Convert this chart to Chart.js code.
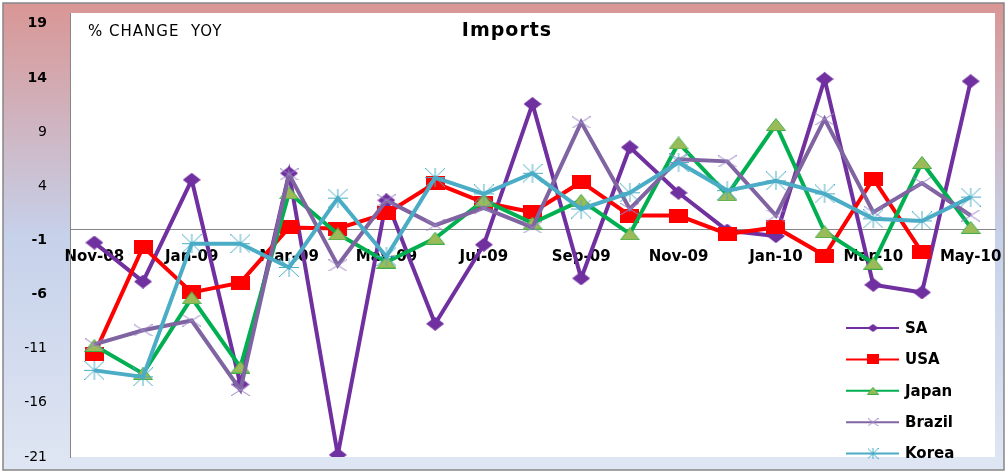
<!DOCTYPE html>
<html>
<head>
<meta charset="utf-8">
<script src="https://cdn.jsdelivr.net/npm/chart.js@4.4.1/dist/chart.umd.min.js"></script>
<style>
  html, body { margin: 0; padding: 0; background: #fff; }
</style>
</head>
<body>
<canvas id="grafico_imports" width="1007" height="473"></canvas>
<script>
// categorias (meses) e valores
const meses = ['Nov-08','Dec-08','Jan-09','Feb-09','Mar-09','Apr-09','May-09','Jun-09','Jul-09','Aug-09',
               'Sep-09','Oct-09','Nov-09','Dec-09','Jan-10','Feb-10','Mar-10','Apr-10','May-10']
const mesesVisiveis = ['Nov-08','Jan-09','Mar-09','May-09','Jul-09','Sep-09','Nov-09','Jan-10','Mar-10','May-10']

const sa     = [-1.2, -4.8, 4.6, -14.3, 5.2, -20.8, 2.7, -8.7, -1.4, 11.6, -4.5, 7.6, 3.4, -0.1, -0.6, 13.9, -5.1, -5.8, 13.7]
const usa    = [-11.5, -1.6, -5.8, -4.9, 0.2, 0.1, 1.5, 4.3, 2.5, 1.6, 4.4, 1.3, 1.3, -0.4, 0.2, -2.4, 4.7, -2.1, null]
const japan  = [-10.7, -13.3, -6.3, -12.7, 3.4, -0.4, -3.0, -0.8, 2.7, 0.6, 2.7, -0.4, 8.0, 3.2, 9.7, -0.2, -3.1, 6.2, 0.2]
const brazil = [-10.6, -9.3, -8.4, -14.8, 5.1, -3.3, 2.7, 0.4, 2.0, 0.2, 9.9, 1.9, 6.5, 6.3, 1.3, 10.2, 1.6, 4.3, 1.3]
const korea  = [-13.0, -13.6, -1.3, -1.3, -3.5, 2.9, -2.5, 4.8, 3.3, 5.2, 1.9, 3.4, 6.2, 3.6, 4.5, 3.3, 1.0, 0.8, 3.0]

const yTicks = [-21, -16, -11, -6, -1, 4, 9, 14, 19]
const yTicksBold = [19, 14, -1, -6]

const fonte = 'DejaVu Sans'

// marcadores desenhados num canvas (achatados como no original)
function marcador(tipo, w, h, cor, borda) {
    const c = document.createElement('canvas')
    c.width = w
    c.height = h
    const g = c.getContext('2d')
    g.fillStyle = cor
    g.strokeStyle = borda || cor
    g.lineWidth = 1
    g.beginPath()
    if (tipo === 'losango') {
        g.moveTo(w / 2, 0); g.lineTo(w, h / 2); g.lineTo(w / 2, h); g.lineTo(0, h / 2); g.closePath()
        g.fill()
    } else if (tipo === 'quadrado') {
        g.rect(0, 0, w, h)
        g.fill()
    } else if (tipo === 'triangulo') {
        g.moveTo(w / 2, 0.5); g.lineTo(w - 0.5, h - 0.5); g.lineTo(0.5, h - 0.5); g.closePath()
        g.fill(); g.stroke()
    } else if (tipo === 'xis') {
        g.moveTo(0, 0); g.lineTo(w, h); g.moveTo(w, 0); g.lineTo(0, h)
        g.stroke()
    } else if (tipo === 'estrela') {
        g.moveTo(0, 0); g.lineTo(w, h); g.moveTo(w, 0); g.lineTo(0, h)
        g.moveTo(w / 2, 0); g.lineTo(w / 2, h); g.moveTo(0, h / 2); g.lineTo(w, h / 2)
        g.stroke()
    }
    return c
}

const series = [
    { label: 'SA',     data: sa,     cor: '#7030a0', ponto: marcador('losango', 18, 14, '#7030a0'),              mini: marcador('losango', 11, 8, '#7030a0') },
    { label: 'USA',    data: usa,    cor: '#ff0000', ponto: marcador('quadrado', 19, 14, '#ff0000'),             mini: marcador('quadrado', 12, 10, '#ff0000') },
    { label: 'Japan',  data: japan,  cor: '#00b050', ponto: marcador('triangulo', 20, 13, '#9bbb59', '#3fae49'), mini: marcador('triangulo', 12, 8, '#9bbb59', '#3fae49') },
    { label: 'Brazil', data: brazil, cor: '#8064a2', ponto: marcador('xis', 19, 12, '', '#9a84c4'),             mini: marcador('xis', 11, 8, '', '#9a84c4') },
    { label: 'Korea',  data: korea,  cor: '#4bacc6', ponto: marcador('estrela', 20, 19, '', '#4bacc6'),         mini: marcador('estrela', 11, 11, '', '#4bacc6') }
]

// fundo em degrade + area branca do grafico
const fundo = {
    id: 'fundo',
    beforeDraw(chart) {
        const c = chart.ctx
        const a = chart.chartArea
        const grad = c.createLinearGradient(0, 3, 0, 470)
        grad.addColorStop(0, '#d99694')
        grad.addColorStop(0.5, '#c6d1ea')
        grad.addColorStop(1, '#dfe6f3')
        c.save()
        c.fillStyle = '#ffffff'
        c.fillRect(0, 0, chart.width, chart.height)
        c.fillStyle = grad
        c.fillRect(3, 3, 1001, 467)
        c.strokeStyle = '#868686'
        c.lineWidth = 1.5
        c.strokeRect(3, 3, 1001, 467)
        c.fillStyle = '#ffffff'
        c.fillRect(a.left, a.top, a.right - a.left, a.bottom - a.top)
        c.restore()
    }
}

// titulo, subtitulo e legenda
const textos = {
    id: 'textos',
    afterDraw(chart) {
        const c = chart.ctx
        c.save()
        c.fillStyle = '#000'
        c.textBaseline = 'middle'
        c.font = '15px "' + fonte + '"'
        c.textAlign = 'left'
        c.letterSpacing = '1px'
        c.fillText('% CHANGE  YOY', 88, 32)
        c.font = 'bold 19px "' + fonte + '"'
        c.textAlign = 'center'
        c.letterSpacing = '1px'
        c.fillText('Imports', 507, 31)
        c.letterSpacing = '0px'

        c.textAlign = 'left'
        c.font = 'bold 15px "' + fonte + '"'
        series.forEach((s, i) => {
            const y = 328 + i * 31.4
            c.strokeStyle = s.cor
            c.lineWidth = 2
            c.beginPath()
            c.moveTo(846, y)
            c.lineTo(899, y)
            c.stroke()
            c.drawImage(s.mini, 873 - s.mini.width / 2, y - s.mini.height / 2)
            c.fillText(s.label, 905, y + 1)
        })
        c.restore()
    }
}

let ctx = document.getElementById('grafico_imports')

const data = {
    labels: meses,
    datasets: series.map((s, i) => ({
        label: s.label,
        data: s.data,
        borderColor: s.cor,
        backgroundColor: s.cor,
        borderWidth: 4,
        pointStyle: s.ponto,
        pointRadius: 8,
        tension: 0,
        order: series.length - i
    }))
}

const config = {
    type: 'line',
    data,
    options: {
        responsive: false,
        animation: false,
        layout: { padding: { left: 0, right: 10, top: 13, bottom: 16 } },
        plugins: {
            legend: { display: false },
            tooltip: { enabled: false }
        },
        scales: {
            x: {
                position: { y: 0 },
                offset: true,
                grid: { display: false },
                border: { display: true, color: '#868686', width: 1 },
                afterFit: s => { s.paddingLeft = 0; s.paddingRight = 0 },
                ticks: {
                    autoSkip: false,
                    maxRotation: 0,
                    padding: 11,
                    color: '#000',
                    font: { family: fonte, size: 15, weight: 'bold' },
                    callback: function (val, i) {
                        const m = meses[i]
                        return mesesVisiveis.includes(m) ? m : ''
                    }
                }
            },
            y: {
                min: -21,
                max: 20,
                grid: { display: false, drawTicks: false },
                border: { display: true, color: '#868686', width: 1 },
                afterFit: s => { s.width = 70; s.paddingTop = 0; s.paddingBottom = 0 },
                afterBuildTicks: s => { s.ticks = yTicks.map(v => ({ value: v })) },
                ticks: {
                    padding: 23,
                    color: '#000',
                    font: c => ({ family: fonte, size: 14, weight: yTicksBold.includes(c.tick && c.tick.value) ? 'bold' : 'normal' })
                }
            }
        }
    },
    plugins: [fundo, textos]
}

const graph = new Chart(ctx, config)
</script>
</body>
</html>
